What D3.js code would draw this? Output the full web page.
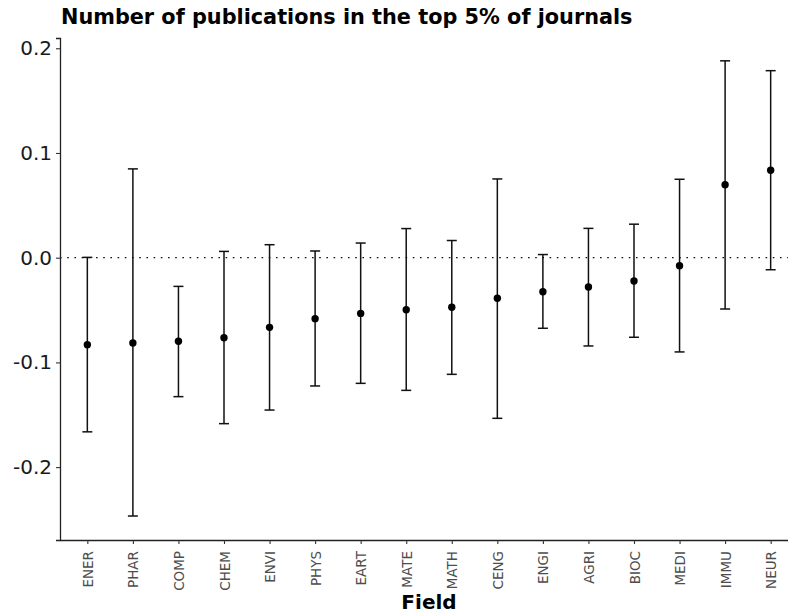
<!DOCTYPE html>
<html>
<head>
<meta charset="utf-8">
<script src="https://cdn.jsdelivr.net/npm/d3@7"></script>
<style>
  body { margin: 0; background: #fff; }
  text { font-family: "DejaVu Sans", sans-serif; }
</style>
</head>
<body>
<div id="chart"></div>
<script>
(function () {
  var fields = ["ENER", "PHAR", "COMP", "CHEM", "ENVI", "PHYS", "EART", "MATE",
                "MATH", "CENG", "ENGI", "AGRI", "BIOC", "MEDI", "IMMU", "NEUR"];
  var estimate = [-0.0832, -0.0815, -0.0798, -0.0764, -0.0665, -0.0582, -0.0532, -0.0497,
                  -0.0474, -0.0388, -0.0325, -0.0280, -0.0222, -0.0077, 0.0697, 0.0835];
  var upper = [0.0003, 0.0848, -0.0274, 0.0060, 0.0124, 0.0064, 0.0140, 0.0278,
               0.0164, 0.0752, 0.0030, 0.0280, 0.0320, 0.0749, 0.1880, 0.1786];
  var lower = [-0.1663, -0.2467, -0.1327, -0.1585, -0.1455, -0.1225, -0.1200, -0.1267,
               -0.1114, -0.1534, -0.0674, -0.0843, -0.0760, -0.0900, -0.0490, -0.0115];
  var yTicks = [-0.2, -0.1, 0.0, 0.1, 0.2];

  var w = 788,
      h = 615;
  var left = 60, right = 798, top = 38, bottom = 540;

  var svg = d3.select("#chart")
      .append("svg")
      .attr("width", w)
      .attr("height", h);

  var x = d3.scalePoint()
      .domain(fields)
      .range([left, right])
      .padding(0.6);

  var y = d3.scaleLinear()
      .domain([-0.2696, 0.2098])
      .range([bottom, top]);

  // reference line at zero
  svg.append("line")
      .attr("x1", left)
      .attr("x2", right)
      .attr("y1", y(0))
      .attr("y2", y(0))
      .attr("stroke", "#111")
      .attr("stroke-width", 1.3)
      .attr("stroke-dasharray", "1.6,5.6");

  var rows = fields.map(function(f, i) {
    return {field: f, est: estimate[i], lo: lower[i], hi: upper[i]};
  });

  var g = svg.selectAll("g.bar")
      .data(rows)
      .enter()
      .append("g")
      .attr("class", "bar");

  g.append("line")
      .attr("x1", function(d) { return x(d.field); })
      .attr("x2", function(d) { return x(d.field); })
      .attr("y1", function(d) { return y(d.lo); })
      .attr("y2", function(d) { return y(d.hi); })
      .attr("stroke", "#111")
      .attr("stroke-width", 1.5);

  g.append("line")
      .attr("x1", function(d) { return x(d.field) - 5; })
      .attr("x2", function(d) { return x(d.field) + 5; })
      .attr("y1", function(d) { return y(d.hi); })
      .attr("y2", function(d) { return y(d.hi); })
      .attr("stroke", "#111")
      .attr("stroke-width", 1.5);

  g.append("line")
      .attr("x1", function(d) { return x(d.field) - 5; })
      .attr("x2", function(d) { return x(d.field) + 5; })
      .attr("y1", function(d) { return y(d.lo); })
      .attr("y2", function(d) { return y(d.lo); })
      .attr("stroke", "#111")
      .attr("stroke-width", 1.5);

  g.append("circle")
      .attr("cx", function(d) { return x(d.field); })
      .attr("cy", function(d) { return y(d.est); })
      .attr("r", 3.7)
      .attr("fill", "#000");

  // axes
  var yAxis = svg.append("g")
      .attr("transform", "translate(" + left + ",0)")
      .call(d3.axisLeft(y).tickValues(yTicks).tickSize(4).tickPadding(4)
        .tickFormat(d3.format(".1f")));
  yAxis.select(".domain").attr("stroke", "#222").attr("stroke-width", 1.3);
  yAxis.selectAll(".tick line").attr("stroke", "#333").attr("stroke-width", 1.1);
  yAxis.selectAll(".tick text")
      .attr("font-family", "DejaVu Sans, sans-serif")
      .attr("font-size", "20px")
      .attr("fill", "#1a1a1a")
      .text(function(d) { return d3.format(".1f")(d).replace("−", "-"); });

  var xAxis = svg.append("g")
      .attr("transform", "translate(0," + bottom + ")")
      .call(d3.axisBottom(x).tickSize(4).tickSizeOuter(0));
  xAxis.select(".domain").attr("stroke", "#222").attr("stroke-width", 1.3);
  xAxis.selectAll(".tick line").attr("stroke", "#333").attr("stroke-width", 1.1);
  xAxis.selectAll(".tick text")
      .attr("font-family", "DejaVu Sans, sans-serif")
      .attr("font-size", "13.5px")
      .attr("fill", "#4d4d4d")
      .attr("text-anchor", "end")
      .attr("dy", null)
      .attr("dominant-baseline", "central")
      .attr("transform", "translate(0,11) rotate(-90)")
      .attr("y", 0)
      .attr("x", 0);

  svg.append("text")
      .text("Number of publications in the top 5% of journals")
      .attr("x", 61)
      .attr("y", 24)
      .attr("font-family", "DejaVu Sans, sans-serif")
      .attr("font-weight", "bold")
      .attr("font-size", "20.8px")
      .attr("fill", "#000");

  svg.append("text")
      .text("Field")
      .attr("x", (left + right) / 2)
      .attr("y", 609)
      .attr("text-anchor", "middle")
      .attr("font-family", "DejaVu Sans, sans-serif")
      .attr("font-weight", "bold")
      .attr("font-size", "20px")
      .attr("fill", "#000");
})();
</script>
</body>
</html>
